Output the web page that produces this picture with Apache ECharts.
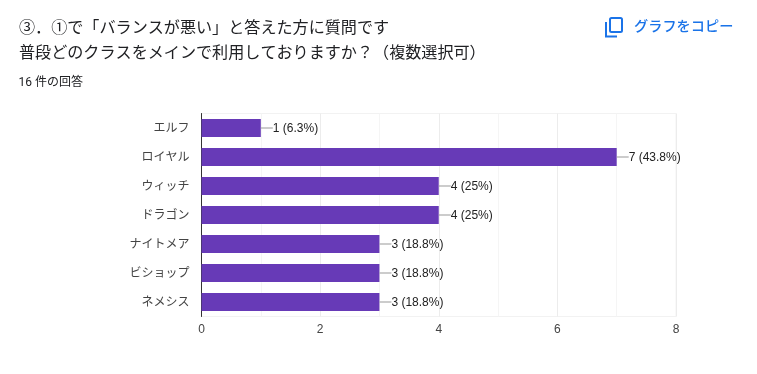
<!DOCTYPE html>
<html><head><meta charset="utf-8">
<style>html,body{margin:0;padding:0;background:#fff}#c{width:757px;height:374px}</style>
<script src="https://cdn.jsdelivr.net/npm/echarts@6/dist/echarts.min.js"></script>
</head><body><div id="c"></div>
<script>
const categories = ['エルフ','ロイヤル','ウィッチ','ドラゴン','ナイトメア','ビショップ','ネメシス'];
const counts = [1,7,4,4,3,3,3];
const percents = ['6.3%','43.8%','25%','25%','18.8%','18.8%','18.8%'];
const titleLines = ['③．①で「バランスが悪い」と答えた方に質問です','普段どのクラスをメインで利用しておりますか？（複数選択可）'];
const subtitle = '16 件の回答';
const copyLabel = 'グラフをコピー';
const jp = '"Roboto","Noto Sans CJK JP",sans-serif';
const chartFont = '"Liberation Sans","Noto Sans CJK JP",sans-serif';
const chart = echarts.init(document.getElementById('c'),null,{renderer:'canvas'});
chart.setOption({
  animation:false,
  backgroundColor:'#fff',
  grid:{left:201.5,top:113.5,width:474.5,height:203,containLabel:false,show:true,borderColor:'#f2f2f2',borderWidth:1},
  xAxis:{type:'value',min:0,max:8,interval:2,
    axisLine:{show:false},axisTick:{show:false},
    axisLabel:{color:'#444',fontSize:12,fontFamily:chartFont,margin:7},
    splitLine:{show:true,lineStyle:{color:'#ececec',width:1}},
    minorTick:{show:false,splitNumber:2},
    minorSplitLine:{show:true,lineStyle:{color:'#f5f5f5',width:1}}},
  yAxis:{type:'category',inverse:true,data:categories,
    axisLine:{show:true,lineStyle:{color:'#333',width:1}},axisTick:{show:false},
    axisLabel:{color:'#444',fontSize:12,fontFamily:chartFont,margin:12,padding:[0,0,0,0],lineHeight:14,verticalAlign:'top',padding:[-6,0,0,0]}},
  series:[{type:'bar',data:counts,barWidth:18,itemStyle:{color:'#673ab7'},
    label:{show:true,position:'right',distance:0,
      formatter:p=>'{l|}{t|'+p.value+' ('+percents[p.dataIndex]+')}',
      rich:{l:{width:12,height:1,backgroundColor:'#999'},
            t:{color:'#222',fontSize:12,fontFamily:chartFont,padding:[2,0,0,0]}}}}],
  graphic:[
    {type:'text',left:19,top:20.5,style:{text:titleLines[0],font:'16.1px '+jp,fill:'#202124'}},
    {type:'text',left:19,top:45.5,style:{text:titleLines[1],font:'16.1px '+jp,fill:'#202124'}},
    {type:'text',left:18.5,top:76.5,style:{text:subtitle,font:'12px '+jp,fill:'#202124'}},
    {type:'text',left:634,top:20.5,style:{text:copyLabel,font:'500 14.2px '+jp,fill:'#1a73e8'}},
    {type:'polyline',shape:{points:[[606,22],[606,36.5],[617,36.5]]},style:{fill:'none',stroke:'#1a73e8',lineWidth:2}},
    {type:'rect',shape:{x:610,y:18,width:12,height:14,r:1.5},style:{fill:'none',stroke:'#1a73e8',lineWidth:2}}
  ]
});
</script></body></html>
